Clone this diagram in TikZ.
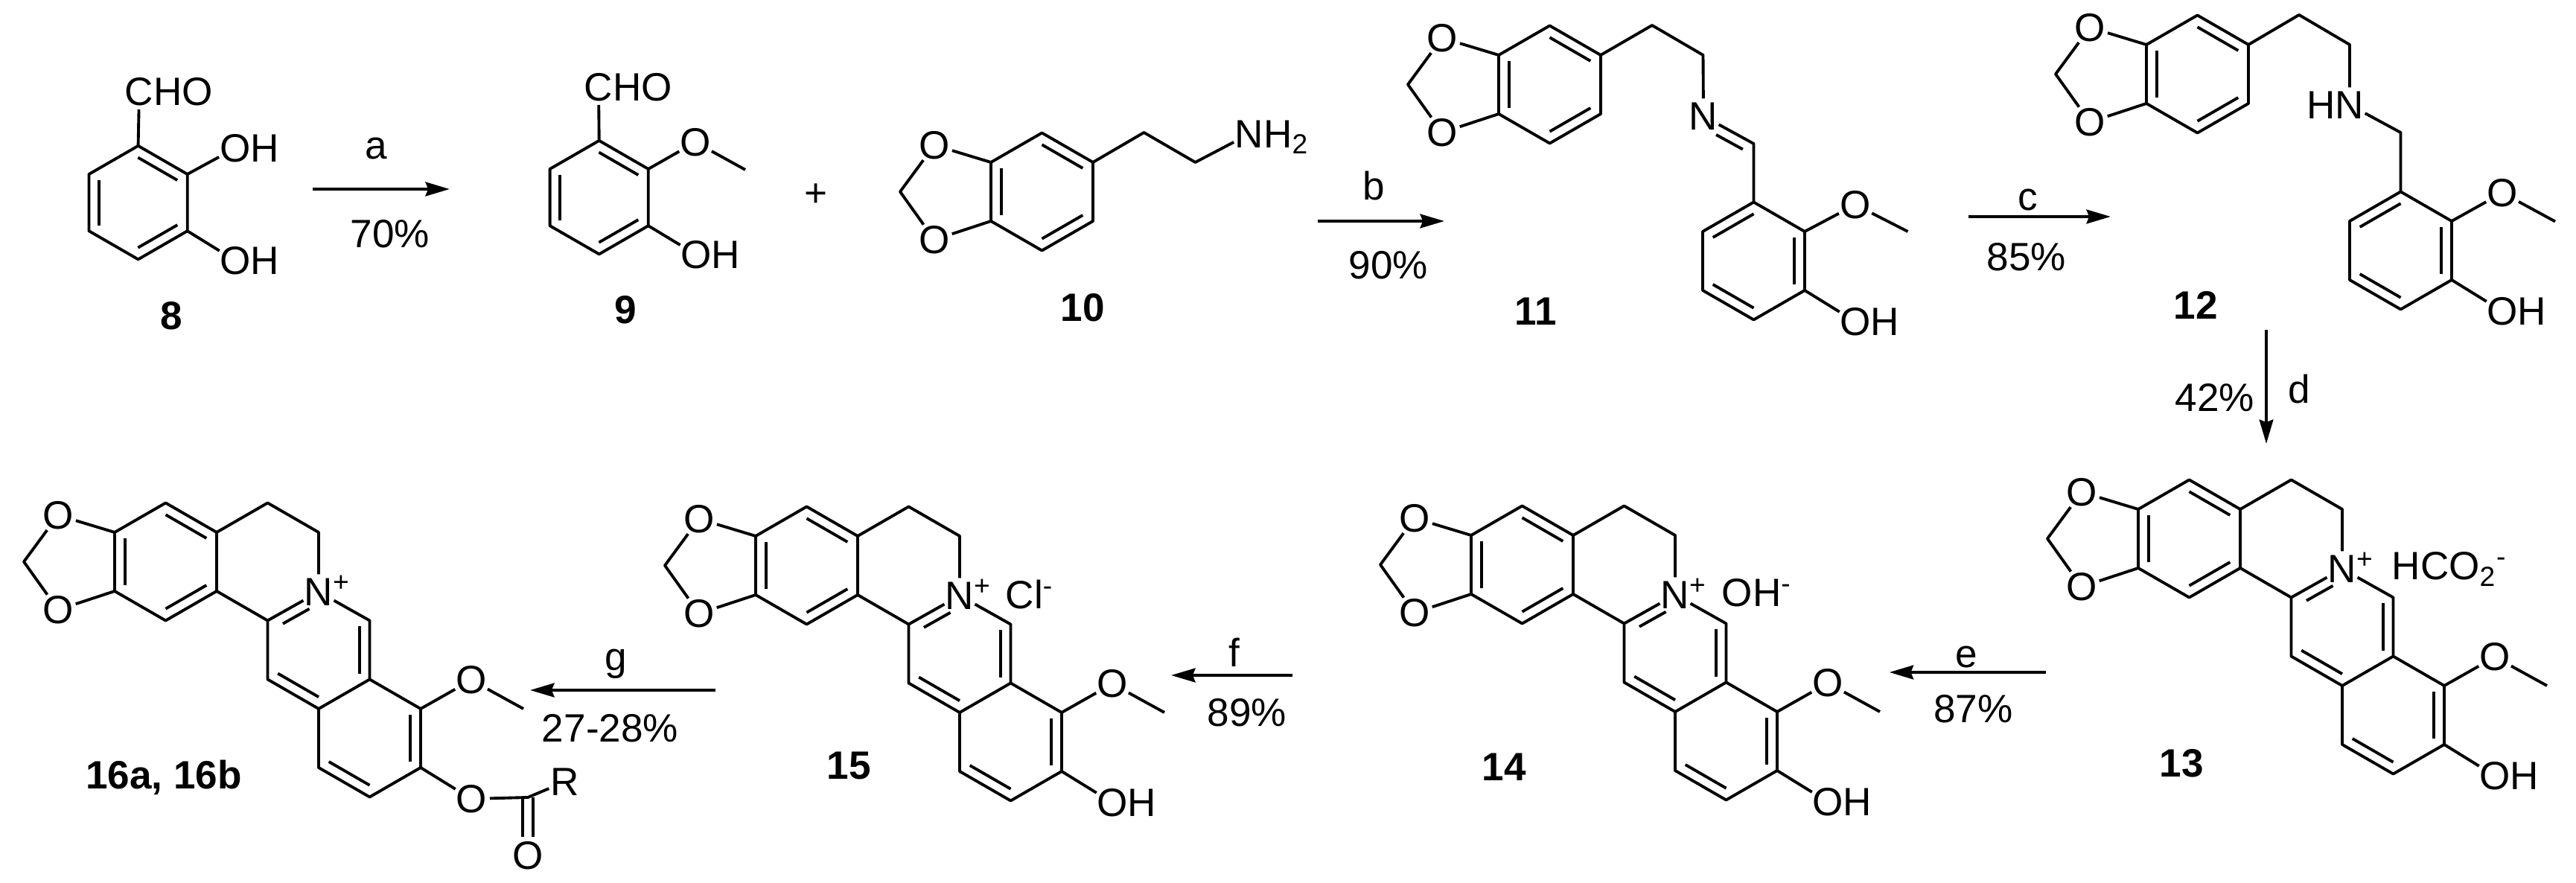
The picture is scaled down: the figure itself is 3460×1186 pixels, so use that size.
\documentclass[tikz,border=0pt]{standalone}
\usepackage{fontspec}
\setmainfont{Liberation Sans}
\usetikzlibrary{arrows.meta,calc}

% inner line of a double bond, a to b clockwise round the ring
\newcommand{\dbl}[2]{\draw[bond] ($(#1)!.1!(#2)!3.9pt!-90:(#2)$) -- ($(#1)!.9!(#2)!3.9pt!-90:(#2)$);}
\newcommand{\Nplus}{N\rlap{\smash{\textsuperscript{+}}}}

% six-membered ring from its upper left corner
\newcommand{\hexring}[4]{
    \begin{scope}[shift={(#2,#3)}, scale=#4]
        \coordinate (#1a1) at (68.5,-39.5);
        \coordinate (#1a2) at (137,0);
        \coordinate (#1a3) at (137,79);
        \coordinate (#1a4) at (68.5,118.5);
        \coordinate (#1a5) at (0,79);
        \coordinate (#1a6) at (0,0);
    \end{scope}
    \draw[bond] (#1a1) -- (#1a2) -- (#1a3) -- (#1a4) -- (#1a5) -- (#1a6) -- cycle;
}

% ring with the methylenedioxy bridge
\newcommand{\dioxolo}[3]{
    \hexring{#1}{#2}{#3}{1}
    \dbl{#1a1}{#1a2}
    \dbl{#1a3}{#1a4}
    \dbl{#1a5}{#1a6}
    \begin{scope}[shift={(#2,#3)}]
        \node[atom] (#1ot) at (-76,-23) {O};
        \node[atom] (#1ob) at (-76,104) {O};
        \coordinate (#1ch) at (-122,39.5);
    \end{scope}
    \draw[bond] (#1a6) -- (#1ot) -- (#1ch) -- (#1ob) -- (#1a5);
}

% the four fused rings of the lower row
\newcommand{\berbcore}[4]{
    \dioxolo{#1}{#2}{#3}
    \begin{scope}[shift={(#2,#3)}]
        \coordinate (#1b1) at (205.5,-39.5);
        \coordinate (#1b2) at (274,0);
        \node[atom] (#1n) at (274,80) {\Nplus};
        \coordinate (#1b3) at (205.5,118.5);
        \coordinate (#1c1) at (342.5,118.5);
        \coordinate (#1c2) at (342.5,197.5);
        \coordinate (#1c3) at (274,237);
        \coordinate (#1c4) at (205.5,197.5);
        \coordinate (#1d1) at (411,237);
        \coordinate (#1d2) at (411,316);
        \coordinate (#1d3) at (342.5,355.5);
        \coordinate (#1d4) at (274,316);
        \node[atom] (#1ome) at (479,198.5) {O};
        \coordinate (#1me) at (549,237);
        \node[atom] (#1oh) at (479,358) {#4};
    \end{scope}
    \draw[bond] (#1a2) -- (#1b1) -- (#1b2) -- (#1n);
    \draw[bond] (#1a3) -- (#1b3) -- (#1n) -- (#1c1) -- (#1c2) -- (#1c3) -- (#1c4) -- (#1b3);
    \draw[bond] (#1c2) -- (#1d1) -- (#1d2) -- (#1d3) -- (#1d4) -- (#1c3);
    \draw[bond] (#1d1) -- (#1ome) -- (#1me);
    \draw[bond] (#1d2) -- (#1oh);
    \draw[bond] ($(#1b3)!.2!(#1n)!3.9pt!-90:(#1n)$) -- ($(#1b3)!.72!(#1n)!3.9pt!-90:(#1n)$);
    \dbl{#1c1}{#1c2}
    \dbl{#1c3}{#1c4}
    \dbl{#1d1}{#1d2}
    \dbl{#1d3}{#1d4}
}

\begin{document}
\begin{tikzpicture}[
    x=0.01cm, y=-0.01cm,
    font=\fontsize{15.1}{18}\selectfont,
    every node/.style={inner sep=0pt},
    bond/.style={line width=1.1pt, line join=round},
    atom/.style={circle, inner sep=0pt, outer sep=-0.8pt},
    cmpd/.style={font=\fontsize{15.1}{18}\selectfont\bfseries},
    rxn/.style={line width=1.3pt, -{Stealth[length=9.2pt,width=5.3pt,inset=1pt]}}
]
\useasboundingbox (0,0) rectangle (3460,1186);

% 8
\hexring{m8}{119.5}{234}{0.965}
\dbl{m8a1}{m8a2}
\dbl{m8a3}{m8a4}
\dbl{m8a5}{m8a6}
\node[atom] (m8cho) at (187,123) {C\rlap{HO}};
\node[atom] (m8o1) at (316,199) {O\rlap{H}};
\node[atom] (m8o2) at (316,350) {O\rlap{H}};
\draw[bond] (m8a1) -- (m8cho);
\draw[bond] (m8a2) -- (m8o1);
\draw[bond] (m8a3) -- (m8o2);
\node[cmpd] (lab8) at (230,424) {8};

% 9
\hexring{m9}{738.6}{227}{0.965}
\dbl{m9a1}{m9a2}
\dbl{m9a3}{m9a4}
\dbl{m9a5}{m9a6}
\node[atom] (m9cho) at (804,117) {C\rlap{HO}};
\node[atom] (m9o1) at (934,191) {O};
\coordinate (m9me) at (1001,228);
\node[atom] (m9o2) at (935,342) {O\rlap{H}};
\draw[bond] (m9a1) -- (m9cho);
\draw[bond] (m9a2) -- (m9o1) -- (m9me);
\draw[bond] (m9a3) -- (m9o2);
\node[cmpd] (lab9) at (840,416) {9};
\node (plus) at (1096,262) {+};

% 10
\dioxolo{m10}{1331}{218}
\coordinate (m10e1) at (1536.5,178);
\coordinate (m10e2) at (1605.5,218);
\node[atom] (m10n) at (1678,180) {N\rlap{\smash{H\textsubscript{2}}}};
\draw[bond] (m10a2) -- (m10e1) -- (m10e2) -- (m10n);
\node[cmpd] (lab10) at (1454,413) {10};

% 11
\dioxolo{m11}{2013}{74}
\coordinate (m11e1) at (2219,34);
\coordinate (m11e2) at (2287.5,74);
\node[atom] (m11n) at (2288,156) {N};
\coordinate (m11c) at (2355.5,193);
\hexring{m11r}{2287}{311}{1}
\dbl{m11ra6}{m11ra1}
\dbl{m11ra2}{m11ra3}
\dbl{m11ra4}{m11ra5}
\node[atom] (m11o1) at (2492,275) {O};
\coordinate (m11me) at (2562.5,311);
\node[atom] (m11o2) at (2492,432) {O\rlap{H}};
\draw[bond] (m11a2) -- (m11e1) -- (m11e2) -- (m11n) -- (m11c) -- (m11ra1);
\draw[bond] ($(m11n)!.35!(m11c)!3.9pt!-90:(m11c)$) -- ($(m11n)!.88!(m11c)!3.9pt!-90:(m11c)$);
\draw[bond] (m11ra2) -- (m11o1) -- (m11me);
\draw[bond] (m11ra3) -- (m11o2);
\node[cmpd] (lab11) at (2063,418) {11};

% 12
\dioxolo{m12}{2883}{60}
\coordinate (m12e1) at (3088,20);
\coordinate (m12e2) at (3156,60);
\node[atom] (m12n) at (3156,141) {\llap{H}N};
\coordinate (m12c) at (3224.5,178);
\hexring{m12r}{3156}{297}{1}
\dbl{m12ra6}{m12ra1}
\dbl{m12ra2}{m12ra3}
\dbl{m12ra4}{m12ra5}
\node[atom] (m12o1) at (3361,259) {O};
\coordinate (m12me) at (3432,297.5);
\node[atom] (m12o2) at (3361,418) {O\rlap{H}};
\draw[bond] (m12a2) -- (m12e1) -- (m12e2) -- (m12n) -- (m12c) -- (m12ra1);
\draw[bond] (m12ra2) -- (m12o1) -- (m12me);
\draw[bond] (m12ra3) -- (m12o2);
\node[cmpd] (lab12) at (2949,410) {12};

% 13
\berbcore{m13}{2872}{684}{O\rlap{H}}
\node[anchor=base west] (m13ion) at (3212,779) {HCO\textsubscript{2}\textsuperscript{-}};
\node[cmpd] (lab13) at (2930,1025) {13};

% 14
\berbcore{m14}{1976}{719}{O\rlap{H}}
\node[anchor=base west] (m14ion) at (2312,815) {OH\textsuperscript{-}};
\node[cmpd] (lab14) at (2020,1030) {14};

% 15
\berbcore{m15}{1015}{720}{O\rlap{H}}
\node[anchor=base west] (m15ion) at (1350,818) {Cl\textsuperscript{-}};
\node[cmpd] (lab15) at (1140,1028) {15};

% 16a, 16b
\berbcore{m16}{154}{715}{O}
\coordinate (m16c) at (709,1071);
\node[atom] (m16r) at (759,1050) {R};
\node[atom] (m16oc) at (709,1149) {O};
\draw[bond] (m16oh) -- (m16c) -- (m16r);
\draw[bond] ([xshift=-2pt]m16c) -- ([xshift=-2pt]m16oc.north);
\draw[bond] ([xshift=2pt]m16c) -- ([xshift=2pt]m16oc.north);
\node[cmpd] (lab16) at (220,1044) {16a, 16b};

% Reaction arrows
\coordinate (sa) at (419.5,254);
\coordinate (ea) at (604,254);
\draw[rxn] (sa) -- (ea);
\node (ra) at (505,199) {a};
\node (ya) at (524,314) {70\%};

\coordinate (sb) at (1770,297);
\coordinate (eb) at (1940,297);
\draw[rxn] (sb) -- (eb);
\node (rb) at (1845,250) {b};
\node (yb) at (1865,356) {90\%};

\coordinate (sc) at (2644,291);
\coordinate (ec) at (2835,291);
\draw[rxn] (sc) -- (ec);
\node (rc) at (2724,268) {c};
\node (yc) at (2722,345) {85\%};

\coordinate (sd) at (3044,443);
\coordinate (ed) at (3044,596);
\draw[rxn, line width=1.1pt] (sd) -- (ed);
\node (rd) at (3088,523) {d};
\node (yd) at (2975,534) {42\%};

\coordinate (se) at (2748,903);
\coordinate (ee) at (2537.6,903);
\draw[rxn] (se) -- (ee);
\node (re) at (2641,882) {e};
\node (ye) at (2650.5,952) {87\%};

\coordinate (sf) at (1736,907);
\coordinate (ef) at (1573,907);
\draw[rxn] (sf) -- (ef);
\node (rf) at (1658,876) {f};
\node (yf) at (1675,957) {89\%};

\coordinate (sg) at (961,927);
\coordinate (eg) at (712,927);
\draw[rxn] (sg) -- (eg);
\node (rg) at (827,891.5) {g};
\node (yg) at (819.5,978) {27-28\%};

\end{tikzpicture}
\end{document}
